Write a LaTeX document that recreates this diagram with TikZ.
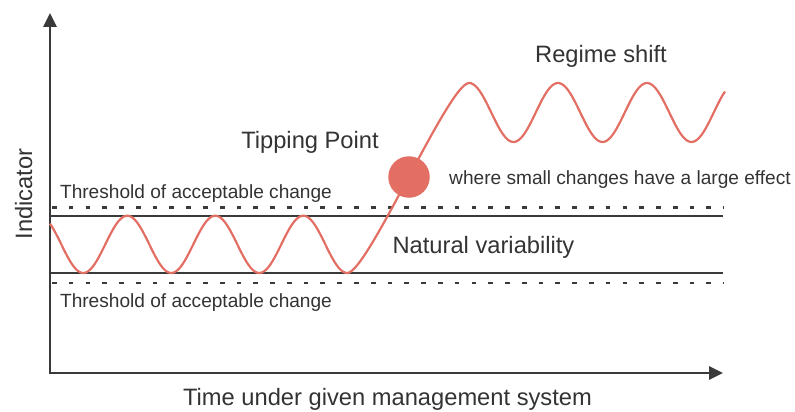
\documentclass[tikz,border=0pt]{standalone}
\usepackage{fontspec}
\setmainfont{Liberation Sans}
\usetikzlibrary{arrows.meta}
\definecolor{axisgray}{RGB}{58,58,58}
\definecolor{txtgray}{RGB}{51,51,51}
\definecolor{wave}{RGB}{227,111,100}
\begin{document}
\begin{tikzpicture}[x=1pt,y=-1pt,
  axisline/.style={draw=axisgray, line width=2.7pt},
  limitline/.style={draw=axisgray, line width=2.4pt},
  dashline/.style={draw=axisgray, line width=2.2pt, dash pattern=on 4.7pt off 12.08pt, dash phase=14.78pt},
  curve/.style={draw=wave, line width=2.2pt, line join=round},
  biglabel/.style={text=txtgray, font=\fontsize{23.7}{28}\selectfont, inner sep=0pt, anchor=base},
  smalllabel/.style={text=txtgray, font=\fontsize{19.1}{23}\selectfont, inner sep=0pt, anchor=base},
  tipdot/.style={circle, fill=wave, minimum size=41.5pt, inner sep=0pt}]
\useasboundingbox (0,0) rectangle (795,412);
% axes
\coordinate (O) at (50,373);
\coordinate (ytip) at (50,13);
\coordinate (xtip) at (723,373);
\draw[axisline, {Triangle[length=14pt,width=13pt]}-{Triangle[length=14pt,width=13pt]}] (ytip) -- (O) -- (xtip);
% natural variability limits
\coordinate (ul) at (50,215.7);
\coordinate (ur) at (723,215.7);
\coordinate (ll) at (50,273);
\coordinate (lr) at (723,273);
\draw[limitline] (ul) -- (ur);
\draw[limitline] (ll) -- (lr);
% thresholds
\coordinate (udl) at (50,207.5);
\coordinate (udr) at (723.5,207.5);
\coordinate (ldl) at (50,283);
\coordinate (ldr) at (723.5,283);
\draw[dashline] (udl) -- (udr);
\draw[dashline] (ldl) -- (ldr);
% curve
\draw[curve] plot[domain=50:347.3, samples=140, smooth] (\x, {244.35+28.65*cos(4.090909*(\x-83.3))})
  .. controls (367.3,273) and (449,83) .. (469,83)
  -- plot[domain=469:725, samples=120, smooth] (\x, {112.5+29.5*cos(4.044944*(\x-513.5))});
\node[tipdot] (tpc) at (409,177) {};
% labels
\node[biglabel, rotate=90] (ind) at (32,194) {Indicator};
\node[biglabel] (tip) at (310,148) {Tipping Point};
\node[biglabel] (reg) at (601,63) {Regime shift};
\node[smalllabel] (eff) at (620,184) {where small changes have a large effect};
\node[smalllabel] (thu) at (196,198) {Threshold of acceptable change};
\node[smalllabel] (thl) at (196,307) {Threshold of acceptable change};
\node[biglabel] (nat) at (483.5,253) {Natural variability};
\node[biglabel] (time) at (387.5,405) {Time under given management system};
\end{tikzpicture}
\end{document}
